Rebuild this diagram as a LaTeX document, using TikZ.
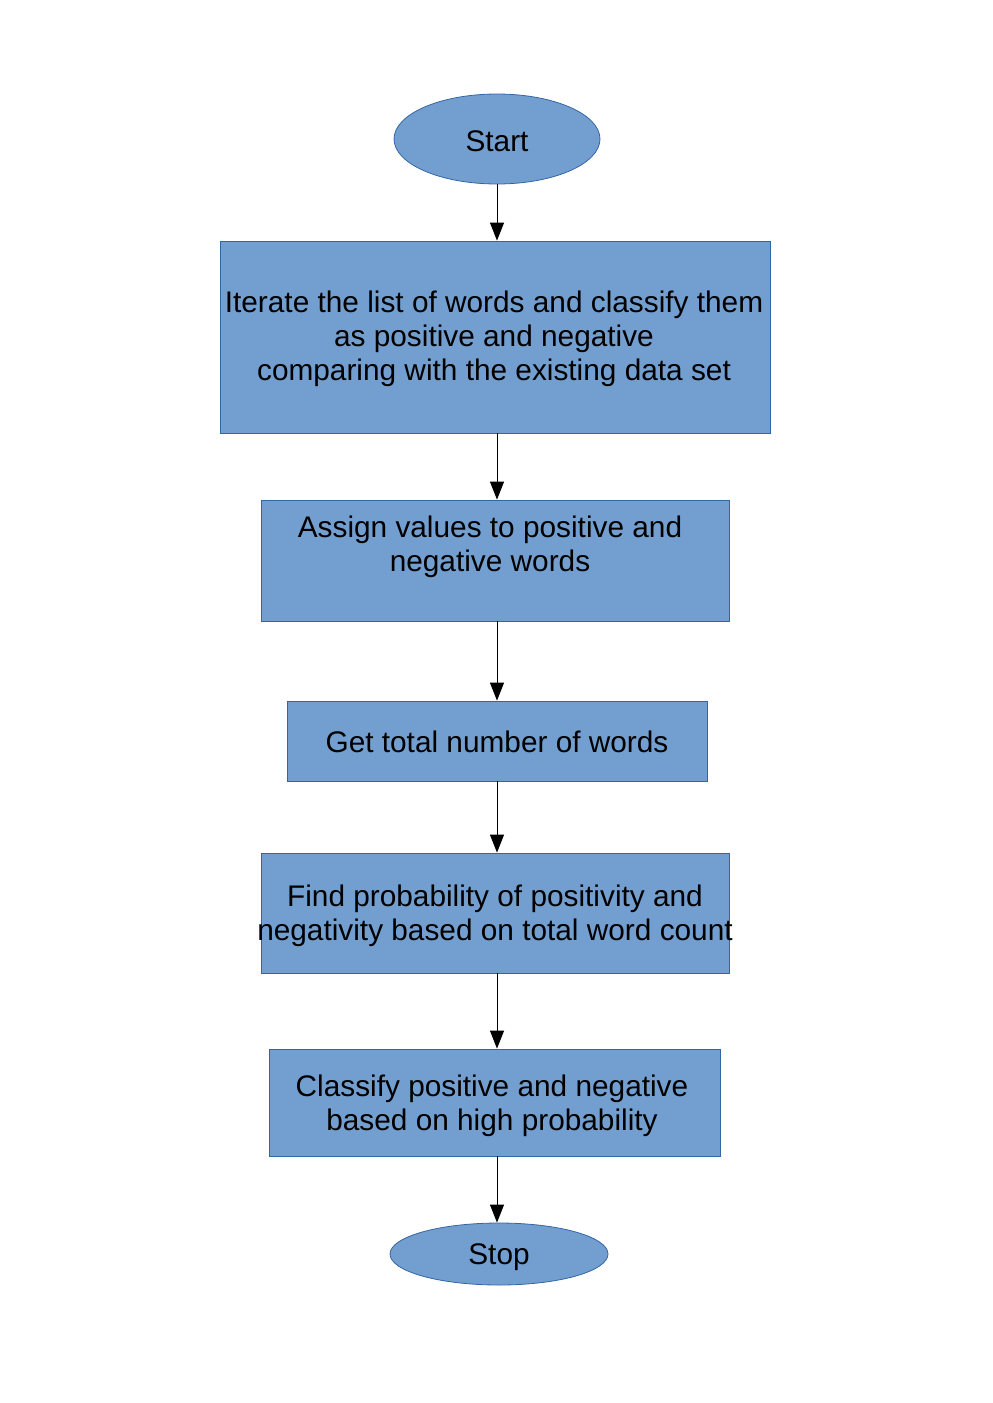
\documentclass[tikz,border=0pt]{standalone}
\usepackage{fontspec}
\setmainfont{Liberation Sans}
\usetikzlibrary{arrows.meta,shapes.geometric}
\definecolor{boxfill}{HTML}{729FCF}
\definecolor{boxline}{HTML}{3465A4}
\tikzset{
  stepbox/.style={draw=boxline, fill=boxfill, line width=0.4pt, rectangle, inner sep=0pt},
  term/.style={draw=boxline, fill=boxfill, line width=0.4pt, ellipse, inner sep=0pt},
  txt/.style={align=center, inner sep=0pt, font=\fontsize{14.9}{17}\selectfont},
  flow/.style={draw=black, line width=0.5pt, -{Triangle[length=9pt,width=7pt]}}
}
\begin{document}
\begin{tikzpicture}[x=0.5pt,y=-0.5pt]
\useasboundingbox (0,0) rectangle (992,1403);
\node[term, minimum width=103pt, minimum height=45pt] (start) at (497,139) {};
\node[txt] (startt) at (497,141) {Start};
\node[stepbox, minimum width=275pt, minimum height=96pt] (b1) at (495,337) {};
\node[txt] (b1t) at (494,339) {Iterate the list of words and classify them\\as positive and negative\\comparing with the existing data set};
\node[stepbox, minimum width=234pt, minimum height=60.5pt] (b2) at (495,560.5) {};
\node[txt] (b2t) at (490,547) {Assign values to positive and\\negative words};
\node[stepbox, minimum width=210pt, minimum height=40pt] (b3) at (497,741) {};
\node[txt] (b3t) at (497,742) {Get total number of words};
\node[stepbox, minimum width=234pt, minimum height=60pt] (b4) at (495,913) {};
\node[txt] (b4t) at (495,916) {Find probability of positivity and\\negativity based on total word count};
\node[stepbox, minimum width=225.5pt, minimum height=53.5pt] (b5) at (494.5,1102.5) {};
\node[txt] (b5t) at (492,1105.5) {Classify positive and negative\\based on high probability};
\node[term, minimum width=109pt, minimum height=31pt] (stop) at (499,1254) {};
\node[txt] (stopt) at (499,1257) {Stop};
\draw[flow] (start.south -| 497,0) -- (b1.north -| 497,0);
\draw[flow] (b1.south -| 497,0) -- (b2.north -| 497,0);
\draw[flow] (b2.south -| 497,0) -- (b3.north -| 497,0);
\draw[flow] (b3.south -| 497,0) -- (b4.north -| 497,0);
\draw[flow] (b4.south -| 497,0) -- (b5.north -| 497,0);
\draw[flow] (b5.south -| 497,0) -- (stop.north -| 497,0);
\end{tikzpicture}
\end{document}
